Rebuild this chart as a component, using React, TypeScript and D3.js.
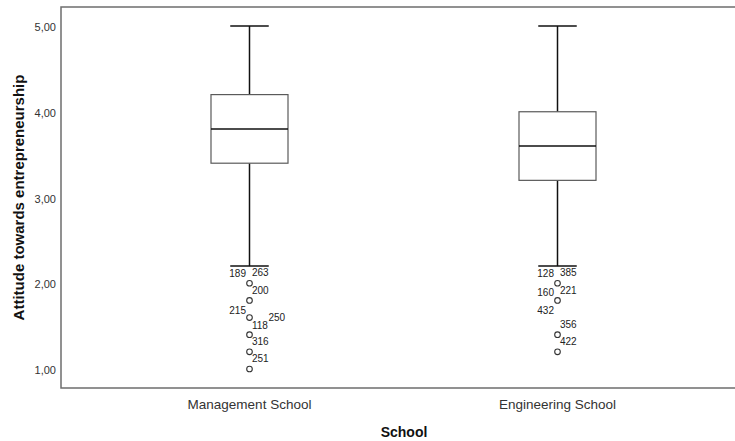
import React from "react";
import * as d3 from "d3";

const categories = ["Management School", "Engineering School"];
const whiskerLow = [2.2, 2.2];
const q1 = [3.4, 3.2];
const median = [3.8, 3.6];
const q3 = [4.2, 4.0];
const whiskerHigh = [5.0, 5.0];

const outlierValuesManagement = [2.0, 1.8, 1.6, 1.4, 1.2, 1.0];
const outlierValuesEngineering = [2.0, 1.8, 1.4, 1.2];

const yTicks = [1, 2, 3, 4, 5];
const yTickLabels = ["1,00", "2,00", "3,00", "4,00", "5,00"];

// case labels: [category, value of the point they belong to, case id]
const caseLabels: [string, number, string][] = [
  ["Management School", 2.0, "189"],
  ["Management School", 2.0, "263"],
  ["Management School", 2.0, "200"],
  ["Management School", 1.8, "215"],
  ["Management School", 1.6, "250"],
  ["Management School", 1.6, "118"],
  ["Management School", 1.4, "316"],
  ["Management School", 1.2, "251"],
  ["Engineering School", 2.0, "128"],
  ["Engineering School", 2.0, "385"],
  ["Engineering School", 2.0, "221"],
  ["Engineering School", 2.0, "160"],
  ["Engineering School", 1.8, "432"],
  ["Engineering School", 1.4, "356"],
  ["Engineering School", 1.4, "422"],
];
// label placement (style): [dx, dy, anchor]
const caseLabelPlacement: [number, number, string][] = [
  [-3.5, -9.5, "end"],
  [2.5, -10.6, "start"],
  [2.5, 7.4, "start"],
  [-3.5, 10, "end"],
  [19, 0, "start"],
  [2.5, 8.4, "start"],
  [2.5, 6.7, "start"],
  [2.5, 6.7, "start"],
  [-3.5, -9.3, "end"],
  [2.5, -10.6, "start"],
  [2.5, 7.4, "start"],
  [-3.5, 9.4, "end"],
  [-3.5, 9.7, "end"],
  [2.5, -10, "start"],
  [2.5, 6.7, "start"],
];

const FONT = "'Liberation Sans', Arial, sans-serif";

export default function App() {
  const W = 735;
  const H = 441;
  const left = 61;
  const top = 7;
  const bottom = 388;
  const right = 746;

  const y = d3.scaleLinear().domain([1, 5]).range([369, 26]);
  const x = d3.scalePoint<string>().domain(categories).range([left, right]).padding(0.612);
  const step = x.step();
  const boxW = step * 0.25;
  const capW = boxW / 2;

  const outliers = [outlierValuesManagement, outlierValuesEngineering];

  return (
    <svg
      width={W}
      height={H}
      style={{ position: "fixed", left: 0, top: 0, background: "#fff" }}
      fontFamily={FONT}
    >
      <rect x={0} y={0} width={W} height={H} fill="#fff" />
      {/* frame */}
      <path
        d={`M${right + 20},${top}H${left}V${bottom}H${right + 20}`}
        fill="none"
        stroke="#6e6e6e"
        strokeWidth={1.5}
      />
      {/* y tick labels */}
      {yTicks.map((t, i) => (
        <text
          key={t}
          x={56}
          y={y(t) + 1}
          textAnchor="end"
          dominantBaseline="central"
          fontSize={11}
          fill="#333"
        >
          {yTickLabels[i]}
        </text>
      ))}
      {/* boxes */}
      {categories.map((c, i) => {
        const cx = x(c)!;
        return (
          <g key={c}>
            <line x1={cx} x2={cx} y1={y(whiskerHigh[i])} y2={y(q3[i])} stroke="#111" strokeWidth={1.5} />
            <line x1={cx} x2={cx} y1={y(q1[i])} y2={y(whiskerLow[i])} stroke="#111" strokeWidth={1.5} />
            <line x1={cx - capW / 2} x2={cx + capW / 2} y1={y(whiskerHigh[i])} y2={y(whiskerHigh[i])} stroke="#111" strokeWidth={1.5} />
            <line x1={cx - capW / 2} x2={cx + capW / 2} y1={y(whiskerLow[i])} y2={y(whiskerLow[i])} stroke="#111" strokeWidth={1.5} />
            <rect
              x={cx - boxW / 2}
              y={y(q3[i])}
              width={boxW}
              height={y(q1[i]) - y(q3[i])}
              fill="#fff"
              stroke="#5a5a5a"
              strokeWidth={1.2}
            />
            <line x1={cx - boxW / 2} x2={cx + boxW / 2} y1={y(median[i])} y2={y(median[i])} stroke="#111" strokeWidth={1.5} />
            {outliers[i].map((v) => (
              <circle key={v} cx={cx} cy={y(v)} r={2.8} fill="#fff" stroke="#333" strokeWidth={1.1} />
            ))}
          </g>
        );
      })}
      {/* case labels */}
      {caseLabels.map(([c, v, id], i) => {
        const [dx, dy, anchor] = caseLabelPlacement[i];
        return (
          <text
            key={id}
            x={x(c)! + dx}
            y={y(v) + dy}
            textAnchor={anchor as any}
            dominantBaseline="central"
            fontSize={10}
            fill="#222"
          >
            {id}
          </text>
        );
      })}
      {/* category labels */}
      {categories.map((c) => (
        <text key={c} x={x(c)!} y={404} textAnchor="middle" dominantBaseline="central" fontSize={13.5} fill="#333">
          {c}
        </text>
      ))}
      {/* axis titles */}
      <text x={404} y={432} textAnchor="middle" dominantBaseline="central" fontSize={14} fontWeight="bold" fill="#111">
        School
      </text>
      <text
        transform={`translate(18,${(top + bottom) / 2}) rotate(-90)`}
        textAnchor="middle"
        dominantBaseline="central"
        fontSize={15}
        fontWeight="bold"
        fill="#111"
      >
        Attitude towards entrepreneurship
      </text>
    </svg>
  );
}
